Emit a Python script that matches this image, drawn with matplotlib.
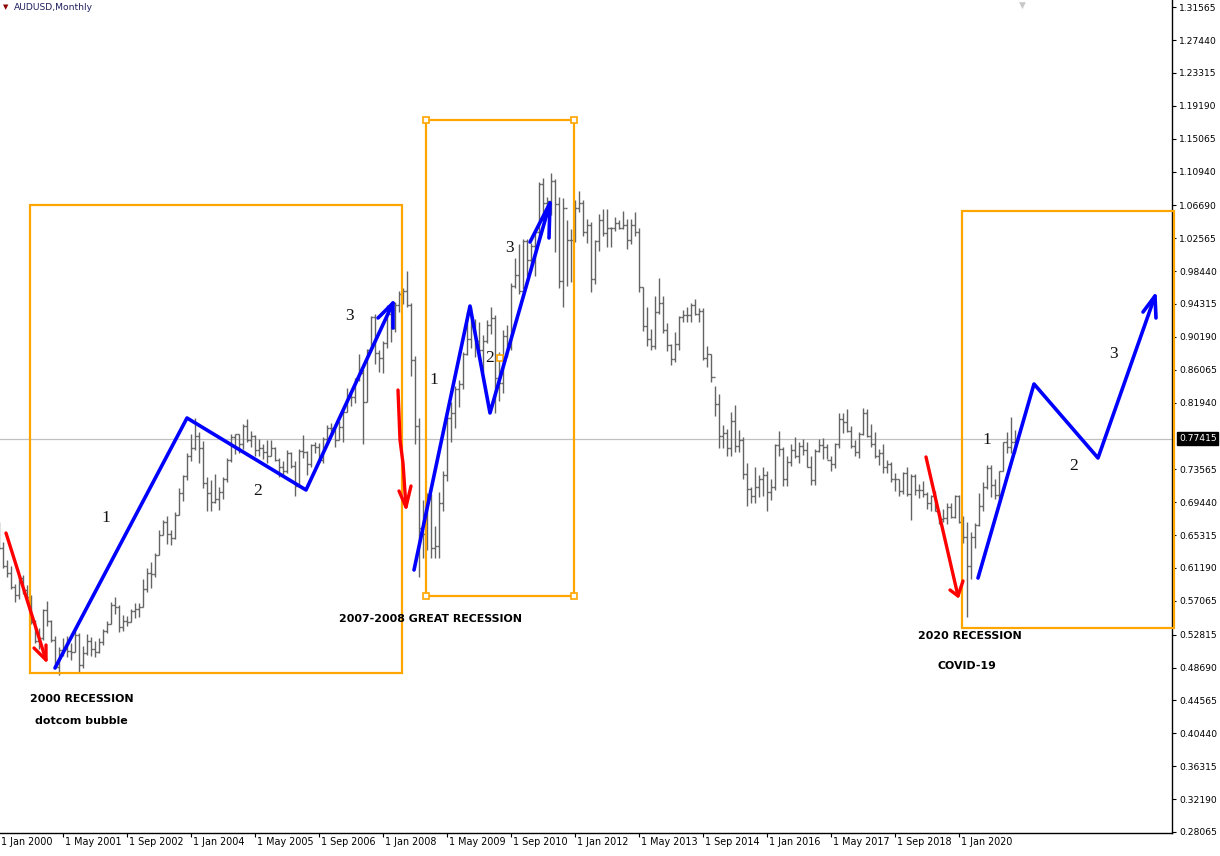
import numpy as np
import matplotlib
matplotlib.use('Agg')
import matplotlib.pyplot as plt
import matplotlib.transforms as mtransforms
from matplotlib.patches import Rectangle

# AUDUSD monthly bars, Jan 2000 .. Mar 2021 (one row per year)
high = [
    .6690, .6440, .6215, .6140, .5920, .6030, .6030, .5910, .5780, .5470, .5360, .5600,  # 2000
    .5700, .5470, .5260, .5130, .5240, .5260, .5180, .5350, .5300, .5140, .5290, .5250,  # 2001
    .5200, .5240, .5350, .5460, .5690, .5760, .5660, .5530, .5520, .5600, .5675, .5680,  # 2002
    .5980, .6120, .6200, .6310, .6590, .6720, .6770, .6590, .6820, .7120, .7280, .7560,  # 2003
    .7800, .8000, .7820, .7710, .7260, .7220, .7300, .7140, .7260, .7500, .7800, .7800,  # 2004
    .7800, .7920, .7990, .7840, .7790, .7740, .7670, .7720, .7730, .7640, .7500, .7460,  # 2005
    .7600, .7570, .7460, .7610, .7790, .7590, .7680, .7700, .7690, .7760, .7910, .7940,  # 2006
    .7920, .7960, .8120, .8380, .8330, .8500, .8800, .8620, .8870, .9280, .9300, .8860,  # 2007
    .8970, .9420, .9380, .9460, .9600, .9630, .9850, .9440, .8780, .8000, .6970, .7060,  # 2008
    .7050, .6640, .7070, .7340, .8010, .8200, .8400, .8480, .8830, .9330, .9400, .9240,  # 2009
    .9200, .9040, .9230, .9400, .9290, .8830, .9100, .9170, .9700, 1.0010, 1.0180, 1.0250,  # 2010
    1.0250, 1.0200, 1.0360, 1.0960, 1.1010, 1.0780, 1.1080, 1.1000, 1.0780, 1.0760, 1.0480, 1.0370,  # 2011
    1.0740, 1.0850, 1.0740, 1.0500, 1.0460, 1.0240, 1.0560, 1.0620, 1.0620, 1.0400, 1.0520, 1.0480,  # 2012
    1.0600, 1.0500, 1.0500, 1.0580, 1.0380, .9650, .9400, .9120, .9530, .9760, .9530, .9190,  # 2013
    .8930, .9080, .9280, .9360, .9400, .9450, .9500, .9380, .9380, .8900, .8800, .8400,  # 2014
    .8300, .7910, .7860, .8080, .8160, .7850, .7760, .7440, .7130, .7380, .7280, .7380,  # 2015
    .7330, .7240, .7680, .7840, .7640, .7520, .7680, .7760, .7700, .7740, .7700, .7530,  # 2016
    .7610, .7740, .7750, .7680, .7520, .7690, .8070, .8060, .8120, .7900, .7730, .7820,  # 2017
    .8130, .8120, .7920, .7820, .7610, .7680, .7480, .7450, .7310, .7230, .7320, .7390,  # 2018
    .7300, .7300, .7170, .7210, .7070, .7040, .7080, .6850, .6860, .6930, .6930, .7030,  # 2019
    .7030, .6770, .6690, .6570, .6680, .7060, .7200, .7410, .7410, .7240, .7340, .7700,  # 2020
    .7820, .8010, .7850,  # 2021
]
low = [
    .6360, .6115, .6010, .5855, .5690, .5730, .5790, .5690, .5420, .5180, .5100, .5210,  # 2000
    .5390, .5195, .4860, .4775, .5010, .5000, .4960, .5070, .4810, .4860, .5030, .5020,  # 2001
    .5000, .5050, .5150, .5300, .5410, .5540, .5310, .5330, .5390, .5440, .5490, .5500,  # 2002
    .5630, .5820, .5870, .6000, .6280, .6530, .6420, .6410, .6480, .6780, .6960, .7220,  # 2003
    .7460, .7600, .7440, .7120, .6830, .6840, .6940, .6850, .6990, .7200, .7450, .7550,  # 2004
    .7560, .7610, .7700, .7640, .7530, .7530, .7490, .7440, .7520, .7460, .7260, .7270,  # 2005
    .7310, .7370, .7020, .7130, .7500, .7290, .7380, .7560, .7440, .7440, .7690, .7780,  # 2006
    .7640, .7720, .7700, .8080, .8150, .8190, .8470, .7670, .8200, .8850, .8680, .8580,  # 2007
    .8560, .8880, .8960, .9080, .9330, .9430, .9400, .8530, .7680, .6010, .6250, .6340,  # 2008
    .6250, .6250, .6250, .6830, .7210, .7700, .7880, .8140, .8360, .8790, .8880, .8770,  # 2009
    .8760, .8580, .8940, .9060, .8070, .8220, .8320, .8770, .8850, .9630, .9560, .9620,  # 2010
    .9780, .9850, .9780, 1.0270, 1.0470, 1.0520, 1.0550, 1.0080, .9630, .9390, .9660, .9710,  # 2011
    1.0210, 1.0590, 1.0280, 1.0200, .9580, .9680, 1.0100, 1.0290, 1.0150, 1.0150, 1.0350, 1.0370,  # 2012
    1.0370, 1.0120, 1.0180, 1.0290, .9580, .9090, .8910, .8850, .8870, .9310, .9070, .8840,  # 2013
    .8660, .8700, .8850, .9200, .9210, .9200, .9290, .9200, .8730, .8640, .8450, .8030,  # 2014
    .7620, .7630, .7530, .7530, .7580, .7580, .7230, .6900, .6930, .6940, .7010, .7020,  # 2015
    .6830, .6970, .7100, .7520, .7150, .7150, .7400, .7500, .7440, .7540, .7380, .7160,  # 2016
    .7160, .7580, .7490, .7490, .7330, .7370, .7630, .7810, .7830, .7630, .7530, .7500,  # 2017
    .7790, .7760, .7640, .7500, .7410, .7310, .7310, .7200, .7090, .7020, .7050, .7020,  # 2018
    .6720, .7040, .7000, .7010, .6860, .6830, .6830, .6670, .6690, .6670, .6750, .6750,  # 2019
    .6680, .6430, .5510, .5980, .6370, .6650, .6830, .7110, .7010, .6990, .6990, .7340,  # 2020
    .7560, .7560, .7560,  # 2021
]
close = [
    .6370, .6140, .6060, .5880, .5780, .5990, .5840, .5750, .5440, .5200, .5245, .5590,  # 2000
    .5450, .5220, .4880, .5085, .5100, .5080, .5060, .5280, .4900, .5050, .5200, .5100,  # 2001
    .5070, .5190, .5330, .5420, .5650, .5630, .5380, .5450, .5440, .5575, .5600, .5630,  # 2002
    .5860, .6050, .6040, .6280, .6530, .6700, .6550, .6500, .6790, .7060, .7270, .7520,  # 2003
    .7620, .7780, .7620, .7180, .7060, .6950, .6990, .7070, .7230, .7470, .7760, .7800,  # 2004
    .7680, .7900, .7720, .7780, .7600, .7620, .7580, .7520, .7630, .7480, .7380, .7330,  # 2005
    .7560, .7400, .7150, .7590, .7580, .7430, .7660, .7640, .7470, .7740, .7880, .7880,  # 2006
    .7730, .7890, .8080, .8270, .8260, .8490, .8560, .8200, .8860, .9270, .8820, .8760,  # 2007
    .8940, .9300, .9130, .9420, .9560, .9600, .9420, .8730, .7900, .6620, .6540, .6980,  # 2008
    .6370, .6400, .6940, .7280, .8000, .8060, .8370, .8430, .8800, .8990, .9150, .8970,  # 2009
    .8850, .8970, .9170, .9250, .8500, .8440, .9030, .8890, .9660, .9800, .9600, 1.0220,  # 2010
    .9980, 1.0160, 1.0330, 1.0940, 1.0700, 1.0720, 1.0980, 1.0690, .9720, 1.0640, 1.0240, 1.0240,  # 2011
    1.0640, 1.0700, 1.0340, 1.0420, .9740, 1.0220, 1.0480, 1.0320, 1.0380, 1.0380, 1.0450, 1.0390,  # 2012
    1.0420, 1.0230, 1.0420, 1.0340, .9650, .9150, .8990, .8910, .9330, .9450, .9100, .8920,  # 2013
    .8740, .8930, .9270, .9290, .9290, .9420, .9300, .9340, .8750, .8810, .8510, .8180,  # 2014
    .7780, .7810, .7620, .7960, .7650, .7720, .7300, .7110, .7020, .7130, .7240, .7290,  # 2015
    .7070, .7130, .7660, .7610, .7230, .7450, .7600, .7520, .7650, .7600, .7390, .7220,  # 2016
    .7590, .7660, .7640, .7480, .7430, .7680, .7990, .7950, .7840, .7650, .7570, .7800,  # 2017
    .8060, .7770, .7680, .7530, .7560, .7390, .7430, .7230, .7230, .7090, .7310, .7050,  # 2018
    .7270, .7100, .7100, .7050, .6930, .7020, .6840, .6730, .6750, .6890, .6760, .7020,  # 2019
    .6690, .6510, .6140, .6510, .6660, .6900, .7140, .7370, .7160, .7030, .7340, .7700,  # 2020
    .7640, .7700, .7742,  # 2021
]
first_open = 0.6570

# date axis labels (month index from Jan 2000)
date_idx = [0, 16, 32, 48, 64, 80, 96, 112, 128, 144, 160, 176, 192, 208, 224, 240]
date_lab = ['1 Jan 2000', '1 May 2001', '1 Sep 2002', '1 Jan 2004', '1 May 2005',
            '1 Sep 2006', '1 Jan 2008', '1 May 2009', '1 Sep 2010', '1 Jan 2012',
            '1 May 2013', '1 Sep 2014', '1 Jan 2016', '1 May 2017', '1 Sep 2018',
            '1 Jan 2020']
price_ticks = [1.31565, 1.27440, 1.23315, 1.19190, 1.15065, 1.10940, 1.06690, 1.02565,
               0.98440, 0.94315, 0.90190, 0.86065, 0.81940, 0.73565, 0.69440, 0.65315,
               0.61190, 0.57065, 0.52815, 0.48690, 0.44565, 0.40440, 0.36315, 0.32190,
               0.28065]
last_price = 0.77415

# hand-drawn objects: (month index, price)
wave_2000 = [(14, .4864), (47, .8001), (76.75, .7098), (98.5, .9444)]
head_2000 = [(94.75, .9256), (98.5, .9444), (98.5, .9130)]
wave_2008 = [(103.75, .6094), (117.75, .9406), (122.75, .8064), (137.75, 1.0699)]
head_2008 = [(132.75, 1.0209), (137.75, 1.0699), (137.5, 1.0260)]
wave_2020 = [(244.75, .5993), (258.75, .8428), (274.75, .7499), (289, .9532)]
head_2020 = [(286, .9331), (289, .9532), (289.25, .9256)]

red_2000 = [(1.75, .6558), (11.75, .4965)]
red_2000_head = [(8.75, .5115), (11.75, .4965), (11.75, .5153)]
red_2008 = [(99.75, .8352), (100.25, .7725), (101, .7436), (101.75, .6884)]
red_2008_head = [(100, .7085), (101.75, .6884), (103, .7148)]
red_2020 = [(231.75, .7512), (239.75, .5768)]
red_2020_head = [(237.75, .5843), (239.75, .5768), (241, .5956)]

boxes = [(7.75, .4802, 100.75, 1.0673), (106.75, .5768, 143.75, 1.1740),
         (240.75, .5366, 293.75, 1.0598)]

wave_nums = [('1', 26.75, .6746), ('2', 64.75, .7085), ('3', 87.75, .9281),
             ('1', 108.75, .8478), ('2', 122.75, .8754), ('3', 127.75, 1.0134),
             ('1', 247, .7725), ('2', 268.75, .7399), ('3', 278.75, .8804)]
notes = [('2000 RECESSION', 7.75, .4475), ('dotcom bubble', 9, .4199),
         ('2007-2008 GREAT RECESSION', 85, .5479), ('2020 RECESSION', 229.75, .5266),
         ('COVID-19', 234.5, .4889)]

W, H = 1220, 856
fig = plt.figure(figsize=(W / 100, H / 100), dpi=100)
ax = fig.add_axes([0, (H - 832.5) / H, 1172 / W, 832.5 / H])
ax.set_xlim(0.25, 293.25)
ax.set_ylim(0.2800, 1.3246)

# bars
x = np.arange(len(close))
opens = np.array([first_open] + close[:-1])
bar_col = '#646464'
ax.vlines(x, low, high, color=bar_col, lw=1.0)
ax.hlines(opens, x - 0.45, x, color=bar_col, lw=1.0)
ax.hlines(close, x, x + 0.45, color=bar_col, lw=1.0)

ax.axhline(last_price, color='#c0c0c0', lw=0.9, zorder=0)

# boxes
for x0, y0, x1, y1 in boxes:
    ax.add_patch(Rectangle((x0, y0), x1 - x0, y1 - y0, fill=False,
                           ec='#FFA500', lw=1.6, zorder=3, clip_on=False))
x0, y0, x1, y1 = boxes[1]
hx = [x0, x1, x0, x1, (x0 + x1) / 2]
hy = [y0, y0, y1, y1, (y0 + y1) / 2]
ax.plot(hx, hy, 's', ms=4, mfc='white', mec='#FFA500', mew=1.2, zorder=4)

# waves + arrows
for pts in [wave_2000, head_2000, wave_2008, head_2008, wave_2020, head_2020]:
    xs, ys = zip(*pts)
    ax.plot(xs, ys, color='#0000FF', lw=2.6, solid_capstyle='round',
            solid_joinstyle='round', zorder=5)
for pts in [red_2000, red_2000_head, red_2008, red_2008_head, red_2020, red_2020_head]:
    xs, ys = zip(*pts)
    ax.plot(xs, ys, color='#FF0000', lw=2.4, solid_capstyle='round',
            solid_joinstyle='round', zorder=5)

for s, tx, ty in wave_nums:
    ax.text(tx, ty, s, ha='center', va='center', fontsize=12.5,
            family='Liberation Serif', color='#111111', zorder=6)
for s, tx, ty in notes:
    ax.text(tx, ty, s, ha='left', va='center', fontsize=7.9,
            family='DejaVu Sans', weight='bold', color='black', zorder=6)

# axes look (MT4 style)
for sp in ['left', 'top']:
    ax.spines[sp].set_visible(False)
for sp in ['right', 'bottom']:
    ax.spines[sp].set_color('black')
    ax.spines[sp].set_linewidth(1.0)
ax.yaxis.tick_right()
ax.set_yticks(price_ticks)
ax.set_yticklabels(['%.5f' % v for v in price_ticks])
ax.tick_params(axis='y', direction='out', length=3, width=0.8, pad=2,
               labelsize=6.6, colors='black')
ax.set_xticks([d for d in date_idx if d > 0.25])
ax.set_xticklabels([])
ax.tick_params(axis='x', direction='out', length=3, width=0.8)
trans = mtransforms.blended_transform_factory(ax.transData, ax.transAxes)
for d, lab in zip(date_idx, date_lab):
    ax.text(d + 0.4, -0.006, lab, ha='left', va='top', fontsize=6.9,
            transform=trans, clip_on=False)

# current price tag
ytrans = mtransforms.blended_transform_factory(ax.transAxes, ax.transData)
ax.text(1.006, last_price, '%.5f' % last_price, transform=ytrans, ha='left',
        va='center', fontsize=6.6, color='white',
        bbox=dict(boxstyle='square,pad=0.2', fc='black', ec='black'))

# header
fig.text(3 / W, 1 - 7 / H, '\u25bc', color='#8b0000', fontsize=5, va='center')
fig.text(14 / W, 1 - 7 / H, 'AUDUSD,Monthly', color='#202060', fontsize=6.6, va='center')
fig.text(1022 / W, 1 - 5 / H, '\u25bc', color='#c8c8c8', fontsize=6.5, ha='center', va='center')

fig.savefig('out.png', dpi=100, facecolor='white')
